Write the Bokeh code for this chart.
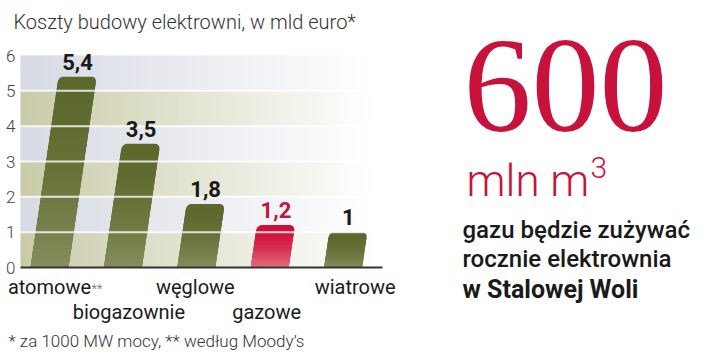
import numpy as np
from bokeh.plotting import figure
from bokeh.models import ColumnDataSource, Range1d, LabelSet
from bokeh.core.properties import value
from bokeh.embed import file_html
from bokeh.resources import INLINE

# ---------------- data ----------------
categories = ["atomowe", "biogazownie", "węglowe", "gazowe", "wiatrowe"]
costs = [5.4, 3.5, 1.8, 1.2, 1.0]
cost_labels = ["5,4", "3,5", "1,8", "1,2", "1"]
highlight = [False, False, False, True, False]
y_ticks = [0, 1, 2, 3, 4, 5, 6]

title_text = "Koszty budowy elektrowni, w mld euro*"
footnote_text = "* za 1000 MW mocy,  ** według Moody’s"
big_number = "600"
big_unit = "mln m"
big_unit_sup = "3"
side_lines = ["gazu będzie zużywać", "rocznie elektrownia", "w Stalowej Woli"]

# ---------------- layout ----------------
W, H = 720, 355
FL, FR, FT, FB = 20, 382, 55, 267          # plot area edges (canvas px)
PX_PER_CAT = 73.4
FIRST_PX = 49
y_max = 6
PX_PER_VAL = (FB - FT) / y_max
x_start = -FIRST_PX / PX_PER_CAT
x_end = x_start + W / PX_PER_CAT
y_start = -(H - FB) / PX_PER_VAL
y_end = y_max + FT / PX_PER_VAL

def xd(px):
    return x_start + px / PX_PER_CAT

def yd(py):
    return y_start + (H - py) / PX_PER_VAL

RED = "#c8123c"
OLIVE_TOP = np.array([0x5c, 0x69, 0x2d])
OLIVE_BOT = np.array([0x86, 0x8d, 0x5c])
RED_TOP = np.array([0xd0, 0x10, 0x3c])
RED_BOT = np.array([0xe3, 0x74, 0x80])
BEIGE = np.array([0xc9, 0xcb, 0xa8])
BLUEGRAY = np.array([0xd6, 0xda, 0xe3])
WHITE = np.array([255, 255, 255])

def hexc(c):
    c = np.clip(np.round(c), 0, 255).astype(int)
    return "#%02x%02x%02x" % tuple(c)

p = figure(width=W, height=H, x_range=Range1d(x_start, x_end),
           y_range=Range1d(y_start, y_end), min_border=0,
           output_backend="svg", toolbar_location=None,
           x_axis_type=None, y_axis_type=None)
p.outline_line_color = None
p.background_fill_color = "white"
p.border_fill_color = "white"

# background bands fading to white
n_sl = 120
left, right = xd(FL), xd(FR)
dx = (right - left) / n_sl
qx0, qx1, qy0, qy1, qc = [], [], [], [], []
for j in range(y_max):
    base = BEIGE if j % 2 == 0 else BLUEGRAY
    for k in range(n_sl):
        a = left + k * dx
        frac = (k + 0.5) / n_sl
        alpha = max(0.0, 1 - frac * (FR - FL) / 352.0)
        qx0.append(a); qx1.append(min(right, a + dx * 1.4))
        qy0.append(j); qy1.append(j + 1)
        qc.append(hexc(WHITE + (base - WHITE) * alpha))
p.quad(left=qx0, right=qx1, bottom=qy0, top=qy1, fill_color=qc, line_color=None)

# slanted bars with rounded tops and vertical gradient
bar_w = 38 / PX_PER_CAT
shear = 5.2 / PX_PER_CAT          # x-units per value unit
rx, ry = 5 / PX_PER_CAT, 5 / PX_PER_VAL

def sh(x, y):
    return x + shear * y

bxs, bys, bcol = [], [], []
sxs, sys_, scol = [], [], []
for i, (v, hl) in enumerate(zip(costs, highlight)):
    xl, xr = i - bar_w / 2, i + bar_w / 2
    pts = [(xl, 0), (xr, 0), (xr, v - ry)]
    for a in np.linspace(0, np.pi / 2, 8):
        pts.append((xr - rx + rx * np.cos(a), v - ry + ry * np.sin(a)))
    for a in np.linspace(np.pi / 2, np.pi, 8):
        pts.append((xl + rx + rx * np.cos(a), v - ry + ry * np.sin(a)))
    pts.append((xl, v - ry))
    bxs.append([sh(x, y) for x, y in pts]); bys.append([y for x, y in pts])
    top, bot = (RED_TOP, RED_BOT) if hl else (OLIVE_TOP, OLIVE_BOT)
    bcol.append(hexc(top))
    n = 40
    hgt = (v - ry) / n
    for k in range(n):
        y0 = k * hgt
        y1 = min(v - ry, y0 + hgt * 1.5)
        t = (y0 + hgt / 2) / v
        mix = (1 - t) ** 1.8
        sxs.append([sh(xl, y0), sh(xr, y0), sh(xr, y1), sh(xl, y1)])
        sys_.append([y0, y0, y1, y1])
        scol.append(hexc(top + (bot - top) * mix))
p.patches(xs=bxs, ys=bys, fill_color=bcol, line_color=None)
p.patches(xs=sxs, ys=sys_, fill_color=scol, line_color=None)

# white gridlines over bars and bands
grid_y = y_ticks[1:-1]
p.segment(x0=[left] * len(grid_y), x1=[right] * len(grid_y), y0=grid_y, y1=grid_y,
          line_color="white", line_width=2, line_alpha=0.8)
# zero (axis) line
p.segment(x0=[left], x1=[right], y0=[0], y1=[0], line_color="#333333", line_width=2)

# y tick labels
p.text(x=[xd(15)] * len(y_ticks), y=y_ticks, text=[str(t) for t in y_ticks],
       text_align="right", text_baseline="middle", text_color="#444444",
       text_font=value("Roboto Light"), text_font_size="17px")

# value labels
vsrc = ColumnDataSource(dict(
    x=[i + shear * v for i, v in enumerate(costs)], y=costs, text=cost_labels,
    color=[RED if h else "#1a1a1a" for h in highlight]))
p.add_layout(LabelSet(x="x", y="y", text="text", source=vsrc, y_offset=7,
                      text_align="center", text_baseline="alphabetic",
                      text_color="color", text_font=value("Roboto"),
                      text_font_style="bold", text_font_size="22px"))

# category labels in two staggered rows
cat_dx = [0, 6, -1, -3, 12]
csrc = ColumnDataSource(dict(
    x=list(range(len(categories))), text=categories,
    y=[yd(293) if i % 2 == 0 else yd(318) for i in range(len(categories))],
    xo=cat_dx))
p.add_layout(LabelSet(x="x", y="y", text="text", source=csrc, x_offset="xo",
                      text_align="center", text_baseline="alphabetic",
                      text_color="#1a1a1a", text_font=value("Roboto"),
                      text_font_size="20px"))
p.add_layout(LabelSet(x="x", y="y", text="text", x_offset=42,
                      source=ColumnDataSource(dict(x=[0], y=[yd(292)], text=["**"])),
                      text_align="left", text_baseline="alphabetic",
                      text_color="#666666", text_font=value("Roboto Light"),
                      text_font_size="13px"))

def txt(px, py, s, font, size, color, style="normal"):
    src = ColumnDataSource(dict(x=[xd(px)], y=[yd(py)], text=[s]))
    p.add_layout(LabelSet(x="x", y="y", text="text", source=src, text_align="left",
                          text_baseline="alphabetic", text_color=color,
                          text_font=value(font), text_font_size=size,
                          text_font_style=style))

txt(13, 28, title_text, "Roboto Light", "20px", "#333333")
txt(8, 346, footnote_text, "Roboto Light", "17px", "#333333")
txt(463, 130, big_number, "Liberation Serif", "136px", RED)
txt(466, 195, big_unit, "Roboto Light", "44px", RED)
txt(590, 177, big_unit_sup, "Roboto Light", "30px", RED)
txt(462, 237, side_lines[0], "Roboto Medium", "24px", "#1a1a1a")
txt(462, 266, side_lines[1], "Roboto Medium", "24px", "#1a1a1a")
txt(462, 297, side_lines[2], "Roboto", "25px", "#1a1a1a", "bold")

open("out.html", "w").write(file_html(p, INLINE))
